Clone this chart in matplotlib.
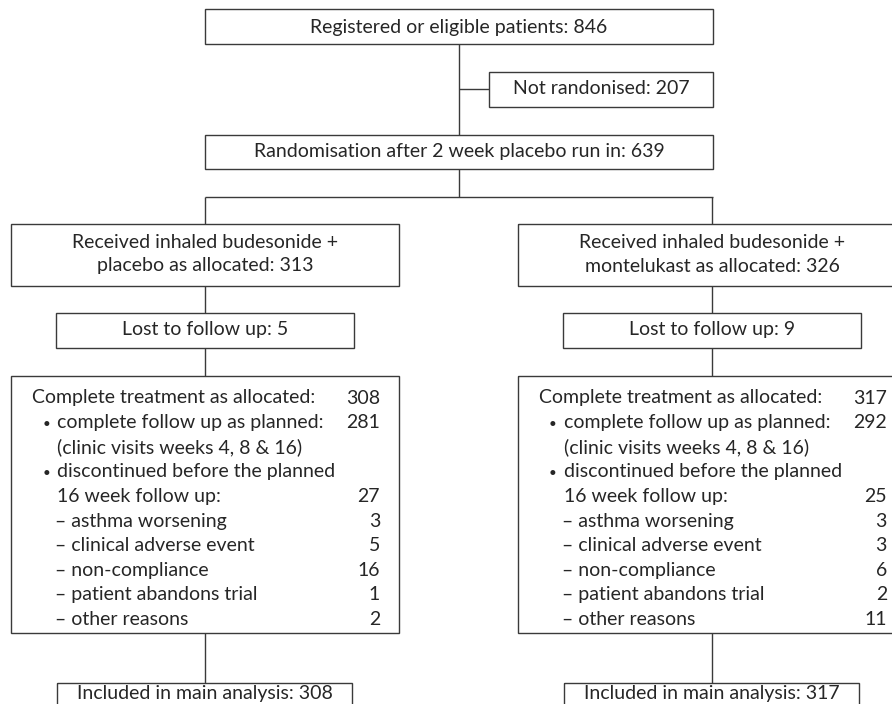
import matplotlib
matplotlib.use("Agg")
import matplotlib.pyplot as plt
from matplotlib.patches import Rectangle

# Flow of patients through the trial
registered = 846
not_randomised = 207
randomised = 639
arm_labels = ["placebo", "montelukast"]
allocated = [313, 326]
lost_to_follow_up = [5, 9]
completed = [308, 317]
complete_follow_up = [281, 292]
discontinued = [27, 25]
reasons = ["asthma worsening", "clinical adverse event", "non-compliance",
           "patient abandons trial", "other reasons"]
reason_counts = [[3, 5, 16, 1, 2],
                 [3, 3, 6, 2, 11]]
analysed = [308, 317]

W, H = 892, 704
FONT = "Lato"
TXT = "#262626"
EDGE = "#3a3a3a"
LW = 1.0

fig = plt.figure(figsize=(W / 100, H / 100), dpi=100)
ax = fig.add_axes([0, 0, 1, 1])
ax.set_xlim(0, W)
ax.set_ylim(H, 0)
ax.axis("off")

# pick a font size so the top label has the width it has in print
renderer = fig.canvas.get_renderer()
probe = ax.text(0, 0, "Registered or eligible patients: %d" % registered,
                fontsize=10, family=FONT)
fs = 10 * 298 / probe.get_window_extent(renderer).width
probe.remove()


def box(x0, y0, x1, y1):
    ax.add_patch(Rectangle((x0, y0), x1 - x0, y1 - y0, fill=False,
                           ec=EDGE, lw=LW, clip_on=False))


def line(xs, ys):
    ax.plot(xs, ys, color=EDGE, lw=LW, solid_capstyle="butt")


def label(x, y, s, ha="center", size=None):
    ax.text(x, y, s, ha=ha, va="center", fontsize=size or fs, family=FONT,
            color=TXT)


# top of the chart
box(205, 9, 713, 44)
label(459, 27, "Registered or eligible patients: %d" % registered)
line([459, 459], [44, 135])
line([459, 489], [89, 89])
box(489, 72, 713, 107)
label(601, 89, "Not randonised: %d" % not_randomised)
box(205, 135, 713, 169)
label(459, 152, "Randomisation after 2 week placebo run in: %d" % randomised)
line([459, 459], [169, 197])
line([205, 713], [197, 197])

# the two arms
for i, arm in enumerate(arm_labels):
    dx = 507 * i
    cx = 205 + dx
    line([cx, cx], [197, 224])
    box(11 + dx, 224, 399 + dx, 286)
    label(cx, 243, "Received inhaled budesonide +")
    label(cx, 266, "%s as allocated: %d" % (arm, allocated[i]))
    line([cx, cx], [286, 313])
    box(56 + dx, 313, 354 + dx, 348)
    label(cx, 330, "Lost to follow up: %d" % lost_to_follow_up[i])
    line([cx, cx], [348, 376])
    box(11 + dx, 376, 399 + dx, 633)

    rows = [(32, "Complete treatment as allocated:", completed[i]),
            (57, "complete follow up as planned:", complete_follow_up[i]),
            (57, "(clinic visits weeks 4, 8 & 16)", None),
            (57, "discontinued before the planned", None),
            (57, "16 week follow up:", discontinued[i])]
    rows += [(55, "\u2013 " + r, n) for r, n in zip(reasons, reason_counts[i])]
    y = 398
    for k, (x, s, n) in enumerate(rows):
        label(x + dx, y, s, ha="left")
        if k in (1, 3):
            label(46 + dx, y + 1, "\u2022", size=fs * 0.7)
        if n is not None:
            label(380 + dx, y, str(n), ha="right")
        y += 24.6

    line([cx, cx], [633, 683])
    box(57 + dx, 683, 352 + dx, 720)
    label(cx, 694, "Included in main analysis: %d" % analysed[i])

fig.savefig("out.png", dpi=100, facecolor="white")
